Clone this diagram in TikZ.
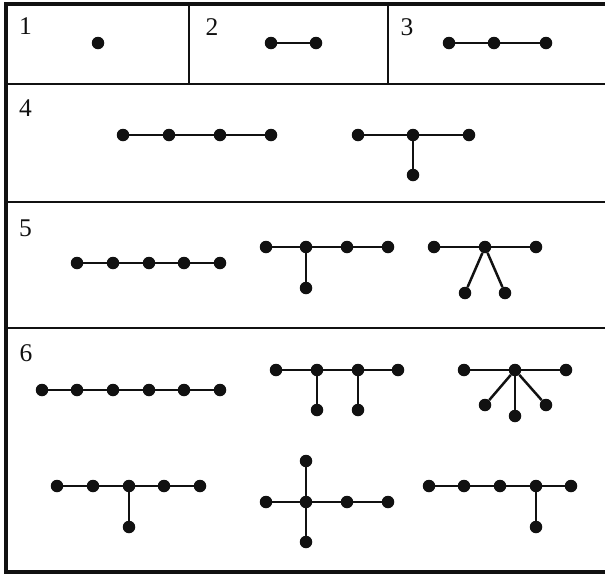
\documentclass[tikz,border=0pt]{standalone}
\usepackage{fontspec}
\setmainfont{Liberation Serif}
\definecolor{ink}{HTML}{111111}
\tikzset{
  dot/.style={circle, fill=ink, draw=none, inner sep=0pt, minimum size=12.5pt},
  edge/.style={draw=ink, line width=2.5pt},
  frameline/.style={draw=ink, line width=3.2pt},
  cellline/.style={draw=ink, line width=2.7pt},
  lbl/.style={inner sep=0pt, font=\fontsize{25.5pt}{26pt}\selectfont, text=ink}
}
\begin{document}
\begin{tikzpicture}[x=1pt, y=-1pt]
\useasboundingbox (0,0) rectangle (605,574);
\begin{scope}
\clip (0,0) rectangle (605,574);
% frame
\draw[frameline] (620,4) -- (6,4) -- (6,572) -- (620,572);
\draw[cellline] (6,84) -- (620,84);
\draw[cellline] (6,202) -- (620,202);
\draw[cellline] (6,328) -- (620,328);
\draw[cellline] (189,4) -- (189,84);
\draw[cellline] (388,4) -- (388,84);
\end{scope}
% labels
\node[lbl] (l1) at (25.5,26) {1};
\node[lbl] (l2) at (212,27) {2};
\node[lbl] (l3) at (407,27) {3};
\node[lbl] (l4) at (25.5,108) {4};
\node[lbl] (l5) at (25.5,228) {5};
\node[lbl] (l6) at (26,353) {6};
% n = 1
\node[dot] (a1) at (98,43) {};
% n = 2
\node[dot] (b1) at (271,43) {};
\node[dot] (b2) at (316,43) {};
\draw[edge] (b1) -- (b2);
% n = 3
\node[dot] (c1) at (449,43) {};
\node[dot] (c2) at (494,43) {};
\node[dot] (c3) at (546,43) {};
\draw[edge] (c1) -- (c2) -- (c3);
% n = 4 path
\node[dot] (d1) at (123,135) {};
\node[dot] (d2) at (169,135) {};
\node[dot] (d3) at (220,135) {};
\node[dot] (d4) at (271,135) {};
\draw[edge] (d1) -- (d2) -- (d3) -- (d4);
% n = 4 star
\node[dot] (e1) at (358,135) {};
\node[dot] (e2) at (413,135) {};
\node[dot] (e3) at (469,135) {};
\node[dot] (e4) at (413,175) {};
\draw[edge] (e1) -- (e2) -- (e3);
\draw[edge] (e2) -- (e4);
% n = 5 path
\node[dot] (f1) at (77,263) {};
\node[dot] (f2) at (113,263) {};
\node[dot] (f3) at (149,263) {};
\node[dot] (f4) at (184,263) {};
\node[dot] (f5) at (220,263) {};
\draw[edge] (f1) -- (f2) -- (f3) -- (f4) -- (f5);
% n = 5 second
\node[dot] (g1) at (266,247) {};
\node[dot] (g2) at (306,247) {};
\node[dot] (g3) at (347,247) {};
\node[dot] (g4) at (388,247) {};
\node[dot] (g5) at (306,288) {};
\draw[edge] (g1) -- (g2) -- (g3) -- (g4);
\draw[edge] (g2) -- (g5);
% n = 5 star
\node[dot] (h1) at (434,247) {};
\node[dot] (h2) at (485,247) {};
\node[dot] (h3) at (536,247) {};
\node[dot] (h4) at (465,293) {};
\node[dot] (h5) at (505,293) {};
\draw[edge] (h1) -- (h2) -- (h3);
\draw[edge] (h2) -- (h4);
\draw[edge] (h2) -- (h5);
% n = 6 path
\node[dot] (i1) at (42,390) {};
\node[dot] (i2) at (77,390) {};
\node[dot] (i3) at (113,390) {};
\node[dot] (i4) at (149,390) {};
\node[dot] (i5) at (184,390) {};
\node[dot] (i6) at (220,390) {};
\draw[edge] (i1) -- (i2) -- (i3) -- (i4) -- (i5) -- (i6);
% n = 6 double comb
\node[dot] (j1) at (276,370) {};
\node[dot] (j2) at (317,370) {};
\node[dot] (j3) at (358,370) {};
\node[dot] (j4) at (398,370) {};
\node[dot] (j5) at (317,410) {};
\node[dot] (j6) at (358,410) {};
\draw[edge] (j1) -- (j2) -- (j3) -- (j4);
\draw[edge] (j2) -- (j5);
\draw[edge] (j3) -- (j6);
% n = 6 star
\node[dot] (k1) at (464,370) {};
\node[dot] (k2) at (515,370) {};
\node[dot] (k3) at (566,370) {};
\node[dot] (k4) at (485,405) {};
\node[dot] (k5) at (515,416) {};
\node[dot] (k6) at (546,405) {};
\draw[edge] (k1) -- (k2) -- (k3);
\draw[edge] (k2) -- (k4);
\draw[edge] (k2) -- (k5);
\draw[edge] (k2) -- (k6);
% n = 6 middle branch
\node[dot] (m1) at (57,486) {};
\node[dot] (m2) at (93,486) {};
\node[dot] (m3) at (129,486) {};
\node[dot] (m4) at (164,486) {};
\node[dot] (m5) at (200,486) {};
\node[dot] (m6) at (129,527) {};
\draw[edge] (m1) -- (m2) -- (m3) -- (m4) -- (m5);
\draw[edge] (m3) -- (m6);
% n = 6 cross
\node[dot] (n1) at (266,502) {};
\node[dot] (n2) at (306,502) {};
\node[dot] (n3) at (347,502) {};
\node[dot] (n4) at (388,502) {};
\node[dot] (n5) at (306,461) {};
\node[dot] (n6) at (306,542) {};
\draw[edge] (n1) -- (n2) -- (n3) -- (n4);
\draw[edge] (n5) -- (n2) -- (n6);
% n = 6 off-centre branch
\node[dot] (p1) at (429,486) {};
\node[dot] (p2) at (464,486) {};
\node[dot] (p3) at (500,486) {};
\node[dot] (p4) at (536,486) {};
\node[dot] (p5) at (571,486) {};
\node[dot] (p6) at (536,527) {};
\draw[edge] (p1) -- (p2) -- (p3) -- (p4) -- (p5);
\draw[edge] (p4) -- (p6);
\end{tikzpicture}
\end{document}
